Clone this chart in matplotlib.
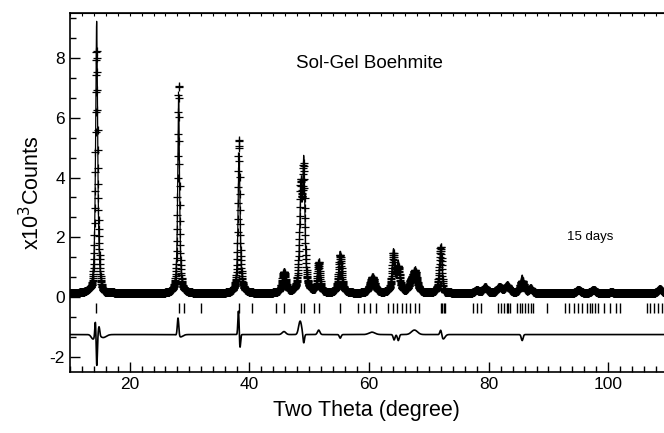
import numpy as np
import matplotlib.pyplot as plt
from matplotlib.ticker import MultipleLocator, AutoMinorLocator

plt.rcParams['font.family'] = ['Liberation Sans', 'DejaVu Sans']
plt.rcParams['axes.unicode_minus'] = False

# ---------- data ----------
# calculated pattern: peak position (2theta), height (x10^3 counts), FWHM (deg)
peak_pos = [14.5, 28.2, 38.3, 45.8, 48.6, 49.1, 51.6, 55.2, 60.6, 64.1, 64.9,
            67.0, 67.7, 72.0, 78.0, 79.4, 81.8, 83.1, 85.6, 87.0, 95.0, 97.5,
            100.5, 108.6]
peak_height = [9.1, 6.6, 4.7, 0.6, 2.8, 4.2, 0.85, 1.4, 0.45, 1.4, 1.0,
               0.25, 0.55, 1.4, 0.1, 0.2, 0.2, 0.25, 0.6, 0.15, 0.12, 0.12,
               0.04, 0.15]
peak_fwhm = [0.4, 0.35, 0.4, 0.7, 0.45, 0.45, 0.5, 0.55, 0.9, 0.5, 0.55,
             0.8, 0.8, 0.55, 0.8, 0.8, 0.9, 0.9, 0.6, 0.7, 0.9, 0.9, 1.1, 0.9]
background = 0.12

# difference (obs - calc): feature position, amplitude, width
diff_pos = [13.9, 14.3, 14.52, 14.9, 15.6, 28.1, 28.5, 38.2, 38.45, 45.8,
            48.5, 49.1, 51.6, 55.2, 60.5, 64.2, 64.9, 67.6, 72.0, 72.4, 85.6]
diff_amp = [-0.15, 0.55, -1.05, 0.3, -0.1, 0.6, -0.08, 0.8, -0.45, 0.1,
            0.45, -0.3, 0.15, -0.12, 0.08, -0.18, -0.2, 0.15, 0.2, -0.15, -0.2]
diff_width = [0.3, 0.1, 0.1, 0.12, 0.5, 0.12, 0.4, 0.1, 0.1, 0.3,
              0.25, 0.12, 0.2, 0.15, 0.5, 0.15, 0.15, 0.5, 0.15, 0.3, 0.15]
diff_offset = -1.25

# Bragg reflection positions
reflections = [14.45, 28.2, 29.1, 32.0, 38.3, 40.4, 44.4, 45.8, 48.7, 49.1,
               50.9, 51.6, 55.2, 58.1, 59.2, 60.2, 61.2, 63.2, 64.1, 64.7,
               65.5, 66.2, 66.9, 67.7, 68.4, 72.0, 72.2, 72.5, 72.7, 77.4,
               78.0, 78.8, 81.6, 82.1, 82.6, 83.0, 83.3, 83.6, 84.7, 85.3,
               85.6, 86.0, 86.5, 87.0, 87.4, 89.7, 92.8, 93.5, 94.3, 94.9,
               95.6, 96.4, 97.0, 97.3, 97.7, 98.2, 99.3, 100.3, 101.2, 102.0,
               106.4, 106.9, 107.6, 108.3, 109.0]

step = 0.03
two_theta = np.arange(10.0, 110.0, step)


def pseudo_voigt(x, pos, h, fwhm, eta=0.8):
    g = np.exp(-4 * np.log(2) * (x - pos) ** 2 / fwhm ** 2)
    lo = 1.0 / (1 + 4 * (x - pos) ** 2 / fwhm ** 2)
    return h * (eta * lo + (1 - eta) * g)


calc = np.full_like(two_theta, background)
for p, h, w in zip(peak_pos, peak_height, peak_fwhm):
    calc += pseudo_voigt(two_theta, p, h, w)

diff = np.zeros_like(two_theta)
for p, a, w in zip(diff_pos, diff_amp, diff_width):
    diff += a * np.exp(-0.5 * ((two_theta - p) / w) ** 2)

obs = calc + diff

# ---------- plot ----------
fig = plt.figure(figsize=(6.64, 4.33), dpi=100)
ax = fig.add_axes([0.105, 0.141, 0.895, 0.829])

ax.plot(two_theta, obs, ls='none', marker='+', ms=6, mew=0.9, color='black')
ax.plot(two_theta, calc, color='black', lw=0.9)
ax.vlines(reflections, -0.52, -0.2, color='black', lw=1.0)
ax.plot(two_theta, diff + diff_offset, color='black', lw=1.2)

ax.set_xlim(10, 109.3)
ax.set_ylim(-2.5, 9.5)
ax.xaxis.set_major_locator(MultipleLocator(20))
ax.xaxis.set_minor_locator(AutoMinorLocator(10))
ax.yaxis.set_major_locator(MultipleLocator(2))
ax.yaxis.set_minor_locator(AutoMinorLocator(3))
ax.tick_params(which='major', direction='in', length=7, width=1, labelsize=12.5)
ax.tick_params(which='minor', direction='in', length=4, width=1)
ax.spines['right'].set_visible(False)
for s in ['left', 'bottom', 'top']:
    ax.spines[s].set_linewidth(1.2)

top = ax.secondary_xaxis('top')
top.xaxis.set_major_locator(MultipleLocator(2))
top.tick_params(direction='in', length=2.5, width=0.8, labeltop=False)

ax.set_xlabel('Two Theta (degree)', fontsize=15.5, labelpad=6)
ax.set_ylabel('x10$^3$Counts', fontsize=15.5, labelpad=4)

ax.text(60, 7.8, 'Sol-Gel Boehmite', fontsize=13.5, ha='center', va='center')
ax.text(97, 2.0, '15 days', fontsize=9.5, ha='center', va='center')

fig.savefig('out.png', dpi=100, facecolor='white')
